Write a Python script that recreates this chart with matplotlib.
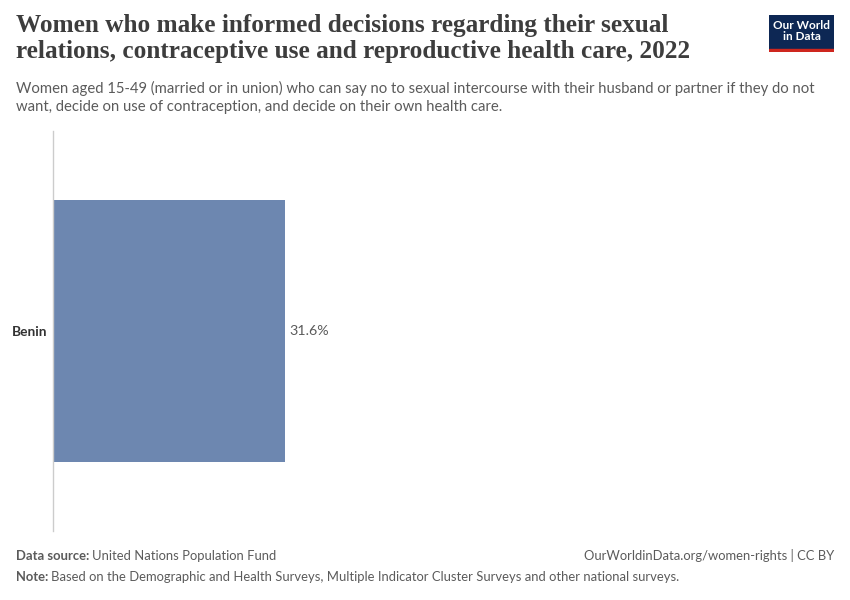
import matplotlib.pyplot as plt
from matplotlib.patches import Rectangle

# ── Data ──────────────────────────────────────────────────────────────────────
countries = ["Benin"]
shares    = [31.6]

TITLE = ("Women who make informed decisions regarding their sexual\n"
         "relations, contraceptive use and reproductive health care, 2022")
SUBTITLE = ("Women aged 15-49 (married or in union) who can say no to sexual intercourse with their husband or partner if they do not\n"
            "want, decide on use of contraception, and decide on their own health care.")

BAR_COLOR = "#6D87B0"
GREY      = "#5b5b5b"

plt.rcParams["font.family"] = ["Lato", "DejaVu Sans"]

W, H = 850, 600
fig = plt.figure(figsize=(W / 100, H / 100), dpi=100)

# axes: left edge at x=53, bar ends at x=285 for 31.6
ax_left, ax_right = 53, 835
ax_top, ax_bottom = 131, 531
ax = fig.add_axes([ax_left / W, 1 - ax_bottom / H,
                   (ax_right - ax_left) / W, (ax_bottom - ax_top) / H])

xmax = shares[0] * (ax_right - ax_left) / (285 - ax_left)
y = range(len(countries))
ax.barh(y, shares, height=0.653, color=BAR_COLOR)
ax.set_xlim(0, xmax)
ax.set_ylim(-0.5, 0.5)
ax.invert_yaxis()

for yi, v in zip(y, shares):
    ax.text(v + xmax * 0.005, yi, f"{v}%", va="center", ha="left",
            fontsize=10.3, color=GREY)

ax.set_yticks(list(y))
ax.set_yticklabels(countries, fontsize=9.9, color="#333333", fontweight="bold")
ax.tick_params(axis="y", length=0, pad=4)
ax.set_xticks([])
for s in ["top", "right", "bottom"]:
    ax.spines[s].set_visible(False)
ax.spines["left"].set_color("#cccccc")
ax.spines["left"].set_linewidth(1)

# ── Header ────────────────────────────────────────────────────────────────────
fig.text(16 / W, 1 - 14 / H, TITLE, ha="left", va="top", fontsize=18.2,
         family=["Liberation Serif"], fontweight="bold", color="#3d3d3d",
         linespacing=1.17)
fig.text(16 / W, 1 - 81 / H, SUBTITLE, ha="left", va="top", fontsize=10.75,
         color=GREY, linespacing=1.33)

# logo
logo = fig.add_axes([769 / W, 1 - 52 / H, 65 / W, 37 / H])
logo.set_xlim(0, 1)
logo.set_ylim(0, 1)
logo.add_patch(Rectangle((0, 0.09), 1, 0.91, color="#0D2754"))
logo.add_patch(Rectangle((0, 0), 1, 0.09, color="#CE261E"))
logo.text(0.5, 0.56, "Our World\nin Data", ha="center", va="center",
          color="white", fontsize=8.5, fontweight="bold", linespacing=1.0)
logo.axis("off")


# ── Footer ────────────────────────────────────────────────────────────────────
def label_pair(ypx, bold, normal):
    t = fig.text(16 / W, 1 - ypx / H, bold, ha="left", va="center",
                 fontsize=9.4, color=GREY, fontweight="bold")
    fig.canvas.draw()
    bb = t.get_window_extent()
    fig.text((bb.x1 + 3) / W, 1 - ypx / H, normal, ha="left", va="center",
             fontsize=9.4, color=GREY)


label_pair(556, "Data source:", "United Nations Population Fund")
label_pair(577, "Note:", "Based on the Demographic and Health Surveys, Multiple Indicator Cluster Surveys and other national surveys.")
fig.text(834 / W, 1 - 556 / H, "OurWorldinData.org/women-rights | CC BY",
         ha="right", va="center", fontsize=9.4, color=GREY)

fig.savefig("out.png", dpi=100)
